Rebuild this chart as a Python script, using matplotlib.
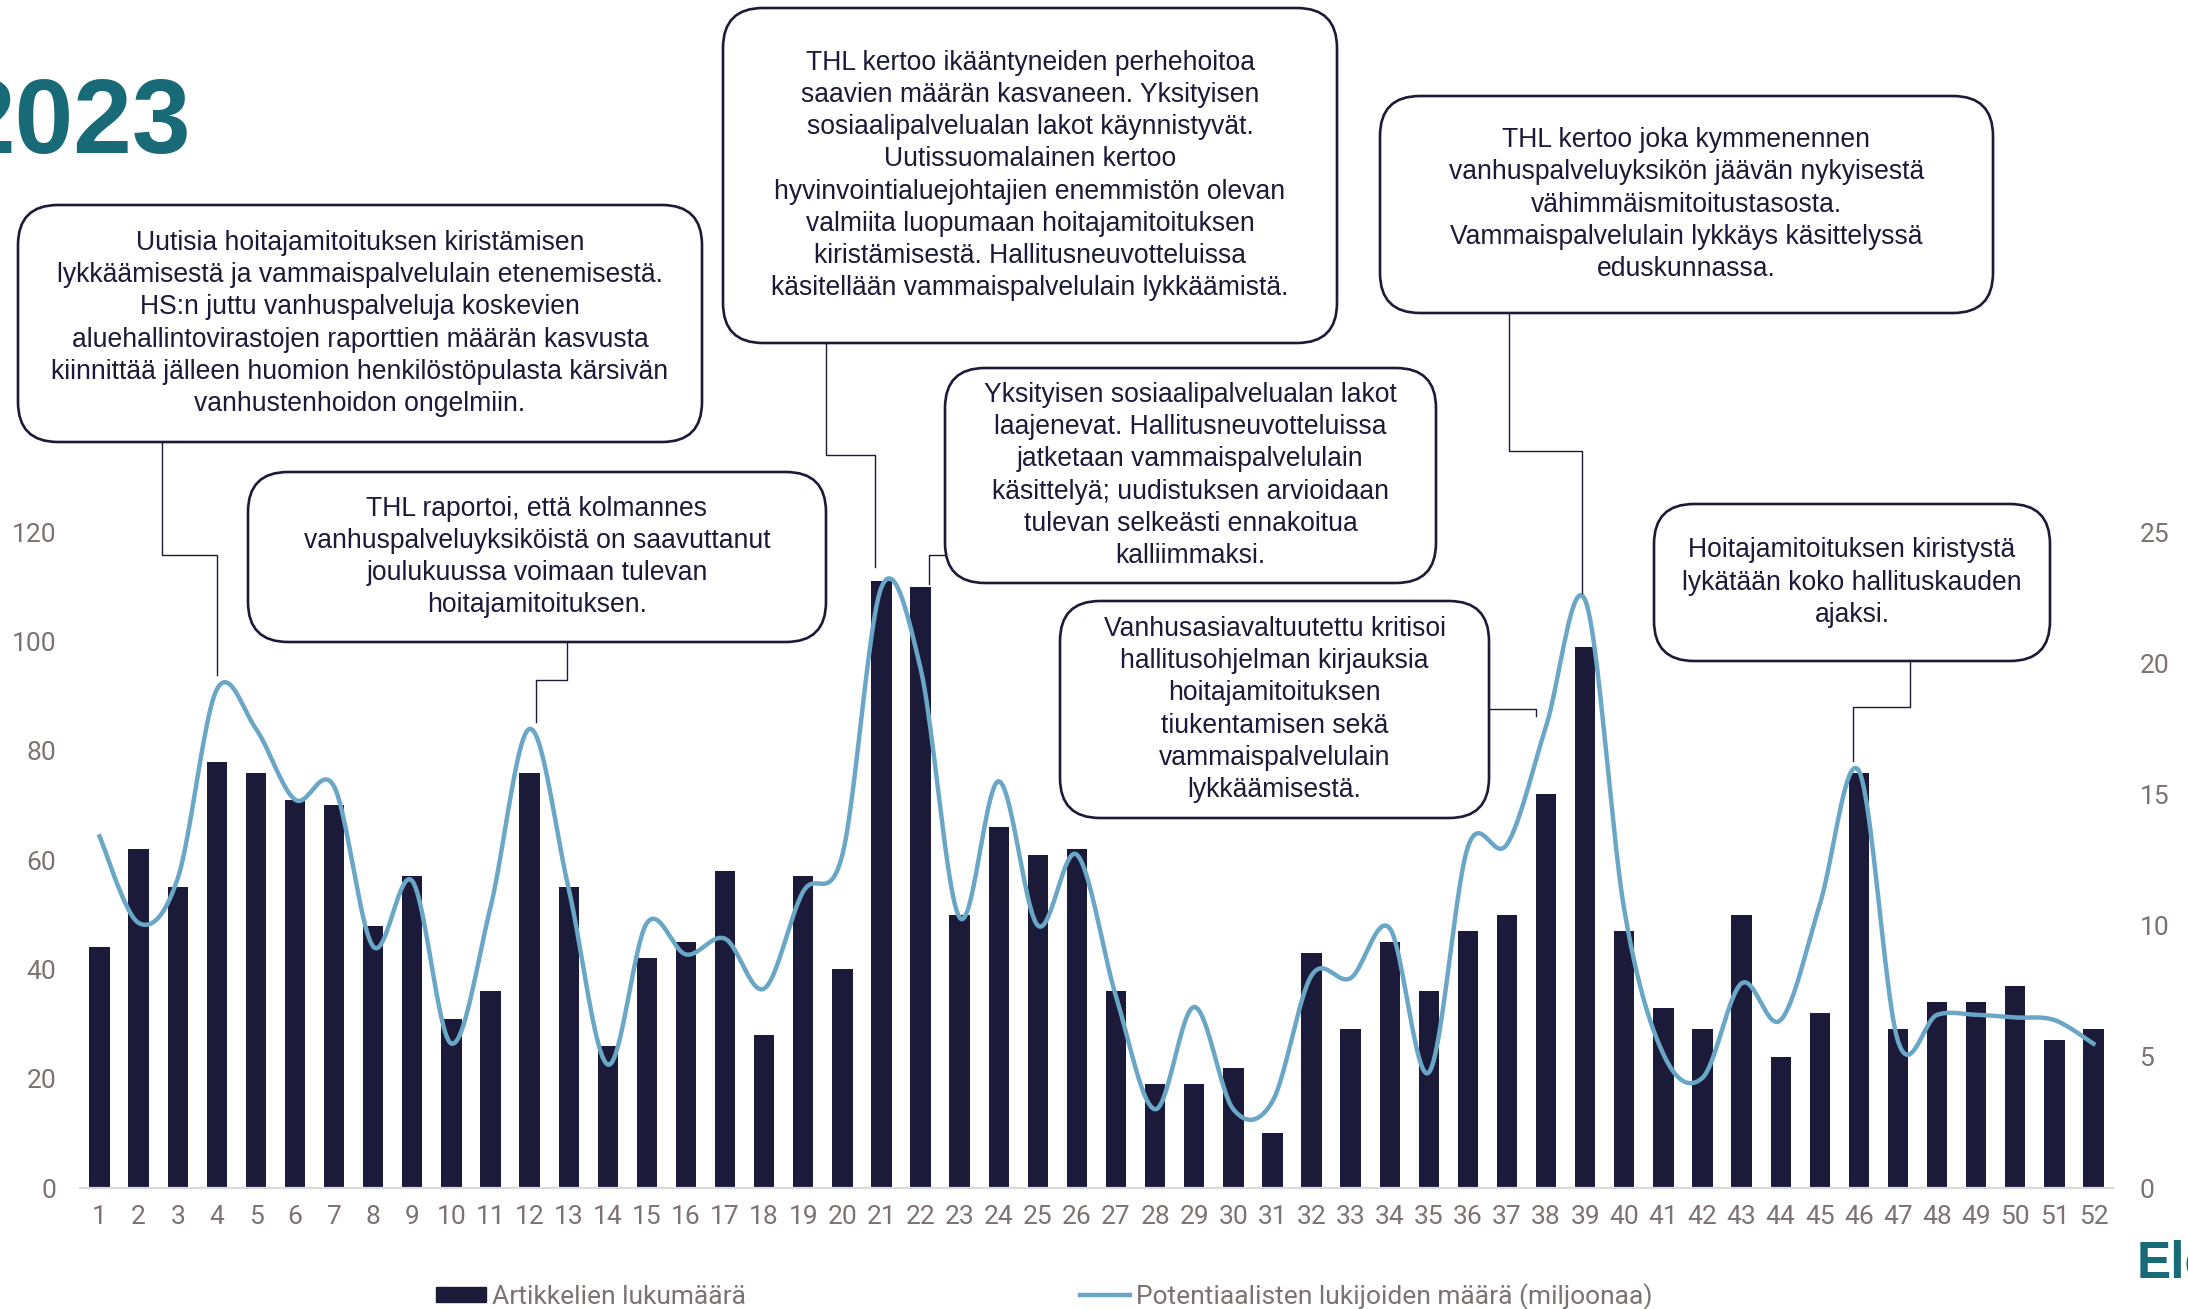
import numpy as np
import matplotlib.pyplot as plt
from matplotlib.patches import FancyBboxPatch, Patch
from matplotlib.lines import Line2D
from matplotlib.transforms import IdentityTransform

# weekly data, 2023
weeks = list(range(1, 53))
articles = [44, 62, 55, 78, 76, 71, 70, 48, 57, 31, 36, 76, 55, 26, 42, 45, 58, 28, 57, 40,
            111, 110, 50, 66, 61, 62, 36, 19, 19, 22, 10, 43, 29, 45, 36, 47, 50, 72, 99, 47,
            33, 29, 50, 24, 32, 76, 29, 34, 34, 37, 27, 29]
readers = [13.4, 10.1, 11.8, 19.0, 17.5, 14.8, 15.3, 9.2, 11.7, 5.5, 10.7, 17.5, 11.4, 4.7,
           10.1, 8.9, 9.5, 7.6, 11.3, 12.7, 22.9, 19.8, 10.3, 15.5, 10.0, 12.7, 7.3, 3.0, 6.9,
           3.0, 3.3, 8.1, 8.0, 9.9, 4.4, 13.0, 13.1, 17.6, 22.4, 10.6, 5.1, 4.2, 7.8, 6.4, 10.8,
           15.9, 5.6, 6.6, 6.6, 6.5, 6.4, 5.5]
left_ticks = [0, 20, 40, 60, 80, 100, 120]
right_ticks = [0, 5, 10, 15, 20, 25]
legend_labels = ['Artikkelien lukumäärä', 'Potentiaalisten lukijoiden määrä (miljoonaa)']

notes = [
    "Uutisia hoitajamitoituksen kiristämisen\nlykkäämisestä ja vammaispalvelulain etenemisestä.\n"
    "HS:n juttu vanhuspalveluja koskevien\naluehallintovirastojen raporttien määrän kasvusta\n"
    "kiinnittää jälleen huomion henkilöstöpulasta kärsivän\nvanhustenhoidon ongelmiin.",
    "THL raportoi, että kolmannes\nvanhuspalveluyksiköistä on saavuttanut\n"
    "joulukuussa voimaan tulevan\nhoitajamitoituksen.",
    "THL kertoo ikääntyneiden perhehoitoa\nsaavien määrän kasvaneen. Yksityisen\n"
    "sosiaalipalvelualan lakot käynnistyvät.\nUutissuomalainen kertoo\n"
    "hyvinvointialuejohtajien enemmistön olevan\nvalmiita luopumaan hoitajamitoituksen\n"
    "kiristämisestä. Hallitusneuvotteluissa\nkäsitellään vammaispalvelulain lykkäämistä.",
    "Yksityisen sosiaalipalvelualan lakot\nlaajenevat. Hallitusneuvotteluissa\n"
    "jatketaan vammaispalvelulain\nkäsittelyä; uudistuksen arvioidaan\n"
    "tulevan selkeästi ennakoitua\nkalliimmaksi.",
    "Vanhusasiavaltuutettu kritisoi\nhallitusohjelman kirjauksia\nhoitajamitoituksen\n"
    "tiukentamisen sekä\nvammaispalvelulain\nlykkäämisestä.",
    "THL kertoo joka kymmenennen\nvanhuspalveluyksikön jäävän nykyisestä\n"
    "vähimmäismitoitustasosta.\nVammaispalvelulain lykkäys käsittelyssä\neduskunnassa.",
    "Hoitajamitoituksen kiristystä\nlykätään koko hallituskauden\najaksi.",
]
note_weeks = [4, 12, 21, 22, 38, 39, 46]
note_target = ['line', 'line', 'line', 'bar', 'line', 'line', 'line']

NAVY = '#1b1a38'
BLUE = '#6aa6c6'
GREY = '#7d7272'
TEAL = '#186a77'
W, H = 2188, 1309

# layout in pixels from top-left: box (x0, y0, x1, y1), connector start, elbow y, gap, dx
boxes = [(18, 205, 702, 442), (248, 472, 826, 642), (723, 8, 1337, 343), (945, 368, 1436, 583),
         (1060, 601, 1489, 818), (1380, 96, 1993, 313), (1654, 504, 2050, 661)]
starts = [(162, 442), (567, 642), (826, 343), (945, 555), (1489, 709), (1509, 313), (1910, 661)]
elbows = [555, 680, 455, 555, 709, 451, 707]
gaps = [14, 7, 20, 3, 10, 7, 10]
dxs = [0, 6, -6, 8, -10, -3, -6]


def smooth(x, y, n=24):
    # Catmull-Rom curve through the points, like a smoothed spreadsheet line
    x = np.asarray(x, float)
    y = np.asarray(y, float)
    px = np.concatenate([[x[0]], x, [x[-1]]])
    py = np.concatenate([[y[0]], y, [y[-1]]])
    xs, ys = [], []
    t = np.linspace(0, 1, n, endpoint=False)
    for i in range(1, len(px) - 2):
        for arr, out in ((px, xs), (py, ys)):
            p0, p1, p2, p3 = arr[i - 1], arr[i], arr[i + 1], arr[i + 2]
            out.extend(0.5 * (2 * p1 + (-p0 + p2) * t + (2 * p0 - 5 * p1 + 4 * p2 - p3) * t ** 2
                              + (-p0 + 3 * p1 - 3 * p2 + p3) * t ** 3))
    xs.append(x[-1])
    ys.append(y[-1])
    return np.array(xs), np.array(ys)


def flip(y):
    return H - y


plt.rcParams['font.family'] = ['Roboto', 'DejaVu Sans']

fig = plt.figure(figsize=(W / 100, H / 100), dpi=100)
ax = fig.add_axes([80 / W, 1 - 1188 / H, (2113 - 80) / W, (1188 - 532) / H])
ax.bar(weeks, articles, width=0.52, color=NAVY, zorder=2)
ax.set_xlim(0.5, 52.5)
ax.set_ylim(0, 120)
ax.set_xticks(weeks)
ax.set_yticks(left_ticks)
ax.tick_params(axis='both', length=0, labelsize=19, labelcolor=GREY)
ax.tick_params(axis='y', pad=17)
ax.tick_params(axis='x', pad=12)
for s in ['top', 'left', 'right']:
    ax.spines[s].set_visible(False)
ax.spines['bottom'].set_color('#d9d9d9')
ax.spines['bottom'].set_linewidth(1.6)

ax2 = ax.twinx()
sx, sy = smooth(weeks, readers)
ax2.plot(sx, sy, color=BLUE, lw=3.2, clip_on=False, zorder=3)
ax2.set_ylim(0, 25)
ax2.set_yticks(right_ticks)
ax2.tick_params(axis='y', length=0, labelsize=19, labelcolor=GREY, pad=19)
for s in ax2.spines.values():
    s.set_visible(False)

# annotation boxes with elbow connectors
ident = IdentityTransform()
for txt, (x0, y0, x1, y1) in zip(notes, boxes):
    fig.patches.append(FancyBboxPatch((x0, flip(y1)), x1 - x0, y1 - y0,
                                      boxstyle='round,pad=0,rounding_size=40',
                                      transform=ident, facecolor='white', edgecolor=NAVY,
                                      lw=1.9, zorder=5))
    fig.text((x0 + x1) / 2 / W, 1 - (y0 + y1) / 2 / H, txt, ha='center', va='center',
             fontsize=19.1, color=NAVY, family='Liberation Sans', linespacing=1.31, zorder=6)

for wk, tgt, (stx, sty), ey, gap, dx in zip(note_weeks, note_target, starts, elbows, gaps, dxs):
    if tgt == 'bar':
        ex, ty = ax.transData.transform((wk, articles[wk - 1]))
    else:
        ex, ty = ax2.transData.transform((wk, readers[wk - 1]))
    ex += dx
    xs = [stx, stx, ex, ex]
    ys = [flip(sty), flip(ey), flip(ey), ty + gap]
    fig.lines.append(Line2D(xs, ys, transform=ident, color=NAVY, lw=1.0, zorder=4))

# titles
fig.text(191 / W, 1 - 153 / H, '2023', ha='right', va='baseline', fontsize=76,
         fontweight='bold', family='Liberation Sans', color=TEAL)
fig.text(2137 / W, 1 - 1277 / H, 'Ele', ha='left', va='baseline', fontsize=37,
         fontweight='bold', family='Liberation Sans', color=TEAL)

# legend
fig.legend(handles=[Patch(color=NAVY)], labels=[legend_labels[0]], loc='center left',
           bbox_to_anchor=(423 / W, 1 - 1297 / H), frameon=False, fontsize=19,
           labelcolor=GREY, handlelength=1.9, handleheight=0.5, handletextpad=0.2, borderpad=0)
fig.legend(handles=[Line2D([], [], color=BLUE, lw=3.2)], labels=[legend_labels[1]],
           loc='center left', bbox_to_anchor=(1067 / W, 1 - 1297 / H), frameon=False,
           fontsize=19, labelcolor=GREY, handlelength=1.9, handletextpad=0.2, borderpad=0)

fig.savefig('out.png', dpi=100)
